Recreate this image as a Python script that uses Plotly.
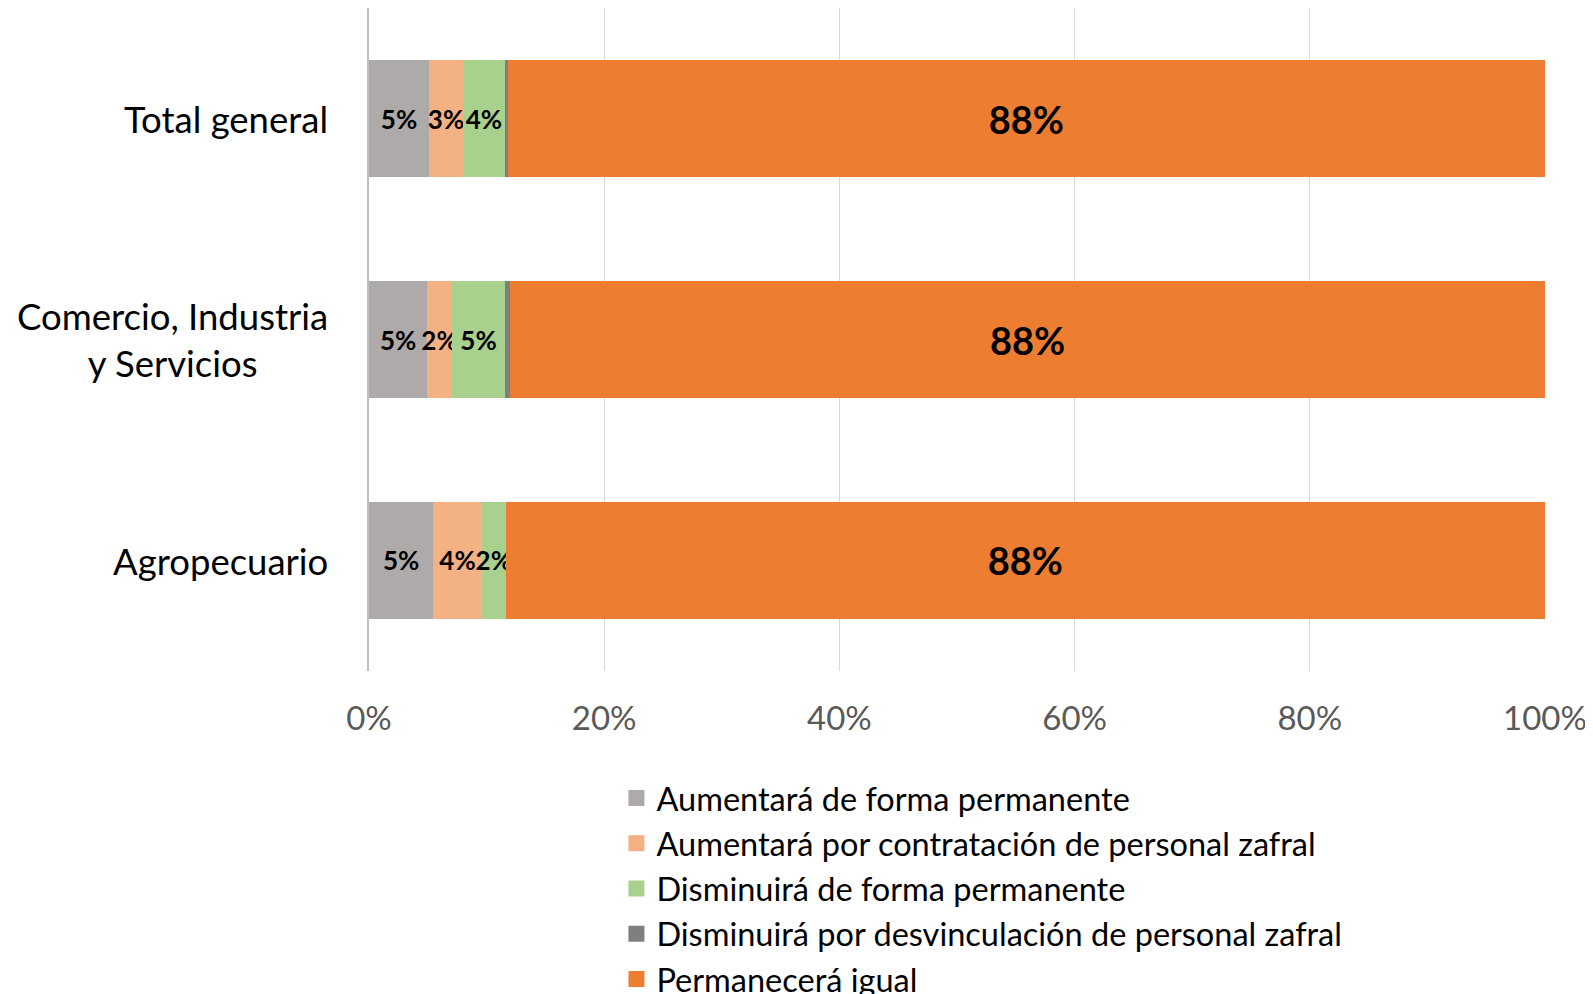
import plotly.graph_objects as go

CATEGORIES = ["Total general", "Comercio, Industria<br>y Servicios", "Agropecuario"]
SERIES = [
    "Aumentará de forma permanente",
    "Aumentará por contratación de personal zafral",
    "Disminuirá de forma permanente",
    "Disminuirá por desvinculación de personal zafral",
    "Permanecerá igual",
]
COLORS = ["#aeaaaa", "#f4b183", "#a9d18e", "#7f7f7f", "#ed7d31"]

# shares per category (same order as CATEGORIES), in %
AUMENTA_PERM = [5.1, 4.96, 5.47]
AUMENTA_ZAFRAL = [2.9, 2.07, 4.12]
DISMINUYE_PERM = [3.55, 4.56, 2.04]
DISMINUYE_ZAFRAL = [0.23, 0.4, 0.0]
PERMANECE = [88.22, 88.01, 88.37]

VALUES = [AUMENTA_PERM, AUMENTA_ZAFRAL, DISMINUYE_PERM, DISMINUYE_ZAFRAL, PERMANECE]
SHOW_LABEL = [True, True, True, False, True]

FONT = "Lato"

fig = go.Figure()
for name, vals, color, show in zip(SERIES, VALUES, COLORS, SHOW_LABEL):
    big = name == "Permanecerá igual"
    fig.add_trace(
        go.Bar(
            y=CATEGORIES,
            x=vals,
            name=name,
            orientation="h",
            marker=dict(color=color, line=dict(width=0)),
            text=[f"{round(v)}%" for v in vals] if show else None,
            textposition="inside",
            insidetextanchor="middle",
            textangle=0,
            constraintext="none",
            textfont=dict(family=FONT, size=38 if big else 26, color="black", weight="bold"),
            cliponaxis=False,
            showlegend=False,
        )
    )

# legend entries with bigger square swatches
for name, color in zip(SERIES, COLORS):
    fig.add_trace(
        go.Scatter(
            x=[None],
            y=[None],
            mode="markers",
            name=name,
            marker=dict(symbol="square", size=16, color=color),
        )
    )

fig.update_layout(
    barmode="stack",
    bargap=0.47,
    width=1593,
    height=994,
    margin=dict(l=361, r=56, t=0, b=331),
    plot_bgcolor="white",
    paper_bgcolor="white",
    font=dict(family=FONT, color="black"),
    legend=dict(
        orientation="v",
        x=0.2104,
        xanchor="left",
        yref="container",
        y=0.233,
        yanchor="top",
        font=dict(family=FONT, size=32.5, color="black"),
        traceorder="normal",
        itemwidth=30,
    ),
)
fig.update_xaxes(
    range=[0, 100],
    tickvals=[0, 20, 40, 60, 80, 100],
    ticktext=["0%", "20%", "40%", "60%", "80%", "100%"],
    showgrid=True,
    gridcolor="#d9d9d9",
    gridwidth=1.3,
    zeroline=False,
    tickfont=dict(family=FONT, size=33, color="#595959"),
    ticks="",
    ticklabelstandoff=25,
)
fig.update_yaxes(
    autorange="reversed",
    showticklabels=False,
    showline=True,
    linecolor="#bfbfbf",
    linewidth=2,
    ticks="",
)
for cat in CATEGORIES:
    fig.add_annotation(
        x=0,
        xref="paper",
        xshift=-39,
        y=cat,
        yref="y",
        text=cat,
        showarrow=False,
        xanchor="right",
        yanchor="middle",
        align="center",
        font=dict(family=FONT, size=36.5, color="black"),
    )

fig.write_html("out.html")
